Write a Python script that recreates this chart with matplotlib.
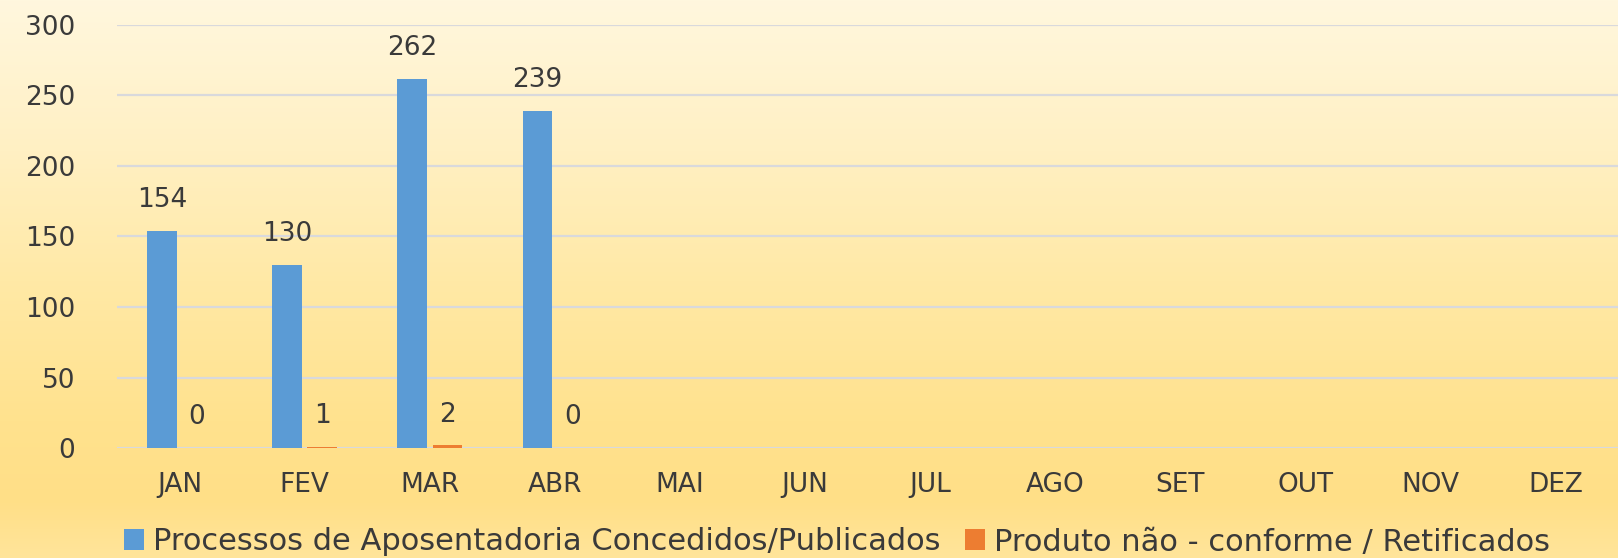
import numpy as np
import matplotlib
matplotlib.use("Agg")
import matplotlib.pyplot as plt

months = ["JAN", "FEV", "MAR", "ABR", "MAI", "JUN", "JUL", "AGO", "SET", "OUT", "NOV", "DEZ"]
concedidos = [154, 130, 262, 239]
retificados = [0, 1, 2, 0]
series_names = ["Processos de Aposentadoria Concedidos/Publicados",
                "Produto não - conforme / Retificados"]
y_ticks = [0, 50, 100, 150, 200, 250, 300]

BLUE = "#5B9BD5"
ORANGE = "#ED7D31"
TEXT = "#3A3A3A"
GRID = "#D9D9DC"

plt.rcParams['font.family'] = ['DejaVu Sans']

W, H = 1618, 558
fig = plt.figure(figsize=(W / 100, H / 100), dpi=100)

# background gradient
bg = fig.add_axes([0, 0, 1, 1], zorder=-10)
ys = np.arange(H)
stops_y = [0, 150, 280, 420, 500, 558]
stops_c = np.array([[255, 247, 222], [255, 240, 195], [255, 233, 166],
                    [255, 226, 142], [255, 223, 135], [255, 229, 155]]) / 255.0
grad = np.stack([np.interp(ys, stops_y, stops_c[:, k]) for k in range(3)], axis=-1)
img = np.repeat(grad[:, None, :], 4, axis=1)
bg.imshow(img, aspect='auto', extent=[0, 1, 0, 1], origin='upper')
bg.set_axis_off()

left = 117 / W
bottom = (H - 448) / H
top = (H - 25) / H
ax = fig.add_axes([left, bottom, 1 - left, top - bottom])
ax.set_facecolor('none')

x = np.arange(len(months))
w = 0.235
off = 0.14
b1 = ax.bar(x[:len(concedidos)] - off, concedidos, width=w, color=BLUE,
            label=series_names[0], zorder=3)
b2 = ax.bar(x[:len(retificados)] + off, retificados, width=w, color=ORANGE,
            label=series_names[1], zorder=3)

for rect, v in zip(b1, concedidos):
    ax.annotate(str(v), (rect.get_x() + rect.get_width() / 2, rect.get_height()),
                xytext=(0, 22), textcoords='offset points', ha='center', va='center',
                fontsize=19, color=TEXT)
for rect, v in zip(b2, retificados):
    ax.annotate(str(v), (rect.get_x() + rect.get_width() / 2, rect.get_height()),
                xytext=(0, 22), textcoords='offset points', ha='center', va='center',
                fontsize=19, color=TEXT)

ax.set_xlim(-0.5, len(months) - 0.5)
ax.set_ylim(0, 300)
ax.set_yticks(y_ticks)
ax.set_xticks(x)
ax.set_xticklabels(months)
ax.tick_params(axis='y', length=0, pad=30, labelsize=19, labelcolor=TEXT)
ax.tick_params(axis='x', length=0, pad=17, labelsize=19, labelcolor=TEXT)
ax.yaxis.grid(True, color=GRID, linewidth=1.6, zorder=0)
ax.set_axisbelow(True)
for s in ax.spines.values():
    s.set_visible(False)

fig.legend(handles=[b1, b2], labels=series_names, loc='center',
           bbox_to_anchor=(837 / W, (H - 542) / H), ncol=2, frameon=False,
           fontsize=22, labelcolor=TEXT, handlelength=0.66, handleheight=0.66,
           handletextpad=0.3, columnspacing=0.8, borderpad=0)

fig.savefig("out.png", dpi=100)
